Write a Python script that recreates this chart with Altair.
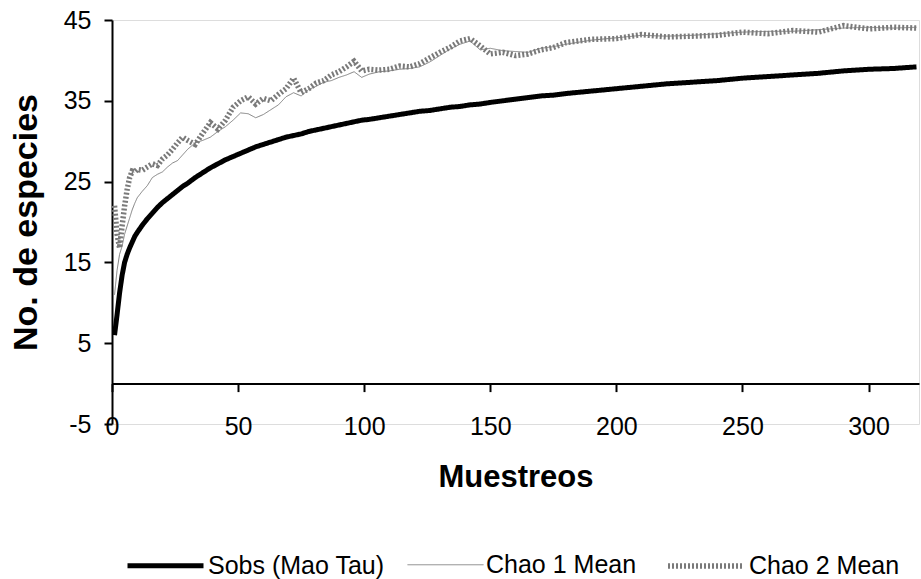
import altair as alt
import pandas as pd

# Number of samples (x positions)
muestreos = [1, 2, 3, 4, 5, 6, 7, 8, 9, 10, 12, 14, 16, 18, 20, 22, 24, 26, 28, 30,
             33, 36, 39, 42, 45, 48, 51, 54, 57, 60, 63, 66, 69, 72, 75, 78, 81, 84,
             87, 90, 93, 96, 99, 102, 106, 110, 114, 118, 122, 126, 130, 134, 138,
             142, 146, 150, 155, 160, 165, 170, 175, 180, 190, 200, 210, 220, 230,
             240, 250, 260, 270, 280, 290, 300, 310, 319]

sobs = [6.0, 8.5, 11.2, 13.4, 15.0, 16.0, 16.8, 17.5, 18.2, 18.7, 19.6, 20.4, 21.1,
        21.8, 22.4, 22.9, 23.4, 23.9, 24.4, 24.8, 25.5, 26.1, 26.7, 27.2, 27.7, 28.1,
        28.5, 28.9, 29.3, 29.6, 29.9, 30.2, 30.5, 30.7, 30.9, 31.2, 31.4, 31.6, 31.8,
        32.0, 32.2, 32.4, 32.6, 32.7, 32.9, 33.1, 33.3, 33.5, 33.7, 33.8, 34.0, 34.2,
        34.3, 34.5, 34.6, 34.8, 35.0, 35.2, 35.4, 35.6, 35.7, 35.9, 36.2, 36.5, 36.8,
        37.1, 37.3, 37.5, 37.8, 38.0, 38.2, 38.4, 38.7, 38.9, 39.0, 39.2]

chao1 = [11.0, 14.0, 16.0, 17.0, 18.5, 19.5, 20.5, 21.5, 22.3, 23.0, 23.8, 24.5,
         25.5, 25.9, 26.2, 26.8, 27.3, 27.6, 28.3, 29.0, 29.8, 30.1, 30.5, 31.2, 31.8,
         32.6, 33.5, 33.4, 32.9, 33.3, 33.9, 34.5, 35.5, 36.0, 35.6, 36.4, 36.8, 37.3,
         37.5, 37.9, 38.2, 38.6, 37.9, 38.3, 38.6, 38.7, 38.9, 39.0, 39.2, 39.8, 40.6,
         41.4, 42.0, 42.4, 41.3, 41.5, 41.2, 41.1, 41.0, 41.5, 41.7, 42.0, 42.5, 42.8,
         43.1, 43.0, 43.1, 43.3, 43.5, 43.6, 43.6, 43.8, 44.0, 44.1, 44.0, 44.1]

chao2 = [22.0, 18.5, 16.8, 19.5, 22.0, 24.0, 25.5, 26.3, 26.2, 26.5, 26.4, 26.8,
         27.2, 27.0, 27.8, 28.3, 29.0, 29.8, 30.5, 30.1, 29.6, 31.0, 32.3, 31.5, 32.6,
         34.2, 35.0, 35.5, 34.6, 35.3, 35.0, 35.8, 36.5, 37.8, 36.0, 36.5, 37.2, 37.5,
         38.2, 38.6, 39.2, 39.9, 38.7, 38.9, 38.8, 38.9, 39.3, 39.2, 39.6, 40.3, 41.0,
         41.6, 42.4, 42.7, 41.8, 40.8, 41.0, 40.6, 40.8, 41.3, 41.6, 42.2, 42.6, 42.7,
         43.2, 42.9, 43.0, 43.1, 43.5, 43.3, 43.7, 43.5, 44.3, 43.9, 44.1, 44.0]

series = ["Sobs (Mao Tau)", "Chao 1 Mean", "Chao 2 Mean"]
x_ticks = [0, 50, 100, 150, 200, 250, 300]
y_ticks = [-5, 5, 15, 25, 35, 45]

rows = []
for name, vals in zip(series, [sobs, chao1, chao2]):
    for x, v in zip(muestreos, vals):
        rows.append({"Muestreos": x, "valor": v, "serie": name})
df = pd.DataFrame(rows)

W, H = 807, 404
FONT = "Liberation Sans"

chart = alt.Chart(df).mark_line(clip=True).encode(
    x=alt.X(
        "Muestreos:Q",
        scale=alt.Scale(domain=[0, 320], nice=False, zero=False),
        axis=alt.Axis(
            orient="bottom", offset=-H * 0.1, values=x_ticks, grid=False,
            domainColor="black", domainWidth=2, tickColor="black", tickWidth=2,
            tickSize=8, labelFont=FONT, labelFontSize=25, labelColor="black",
            labelBaseline="middle", labelPadding=35, labelFlush=False,
            labelOverlap=False, title="Muestreos", titleFont=FONT,
            titleFontSize=31, titleFontWeight="bold", titleColor="black",
            titlePadding=23,
        ),
    ),
    y=alt.Y(
        "valor:Q",
        scale=alt.Scale(domain=[-5, 45], nice=False, zero=False),
        axis=alt.Axis(
            values=y_ticks, grid=False, domainColor="black", domainWidth=2,
            tickColor="black", tickWidth=2, tickSize=8, labelFont=FONT,
            labelFontSize=25, labelColor="black", labelPadding=13,
            labelExpr="datum.value + ''",
            title="No. de especies", titleFont=FONT, titleFontSize=34,
            titleFontWeight="bold", titleColor="black", titlePadding=20,
        ),
    ),
    color=alt.Color(
        "serie:N",
        scale=alt.Scale(domain=series, range=["#000000", "#808080", "#7a7a7a"]),
        legend=alt.Legend(
            title=None, orient="none", legendX=13, legendY=505,
            direction="horizontal", symbolType="stroke", symbolSize=5776,
            labelFont=FONT, labelFontSize=25, labelColor="black",
            labelOffset=2, columnPadding=20, labelLimit=0,
        ),
    ),
    strokeWidth=alt.StrokeWidth(
        "serie:N",
        scale=alt.Scale(type="ordinal", domain=series, range=[5, 1, 5.5]),
    ),
    strokeDash=alt.StrokeDash(
        "serie:N",
        scale=alt.Scale(type="ordinal", domain=series, range=[[1, 0], [1, 0], [2, 2]]),
    ),
).properties(
    width=W, height=H,
    autosize=alt.AutoSizeParams(type="none"),
    padding={"left": 112, "top": 20, "right": 2, "bottom": 155},
).configure_view(stroke=None).configure(background="white")

chart.save("out.html", embed_options={"renderer": "svg", "actions": False})
